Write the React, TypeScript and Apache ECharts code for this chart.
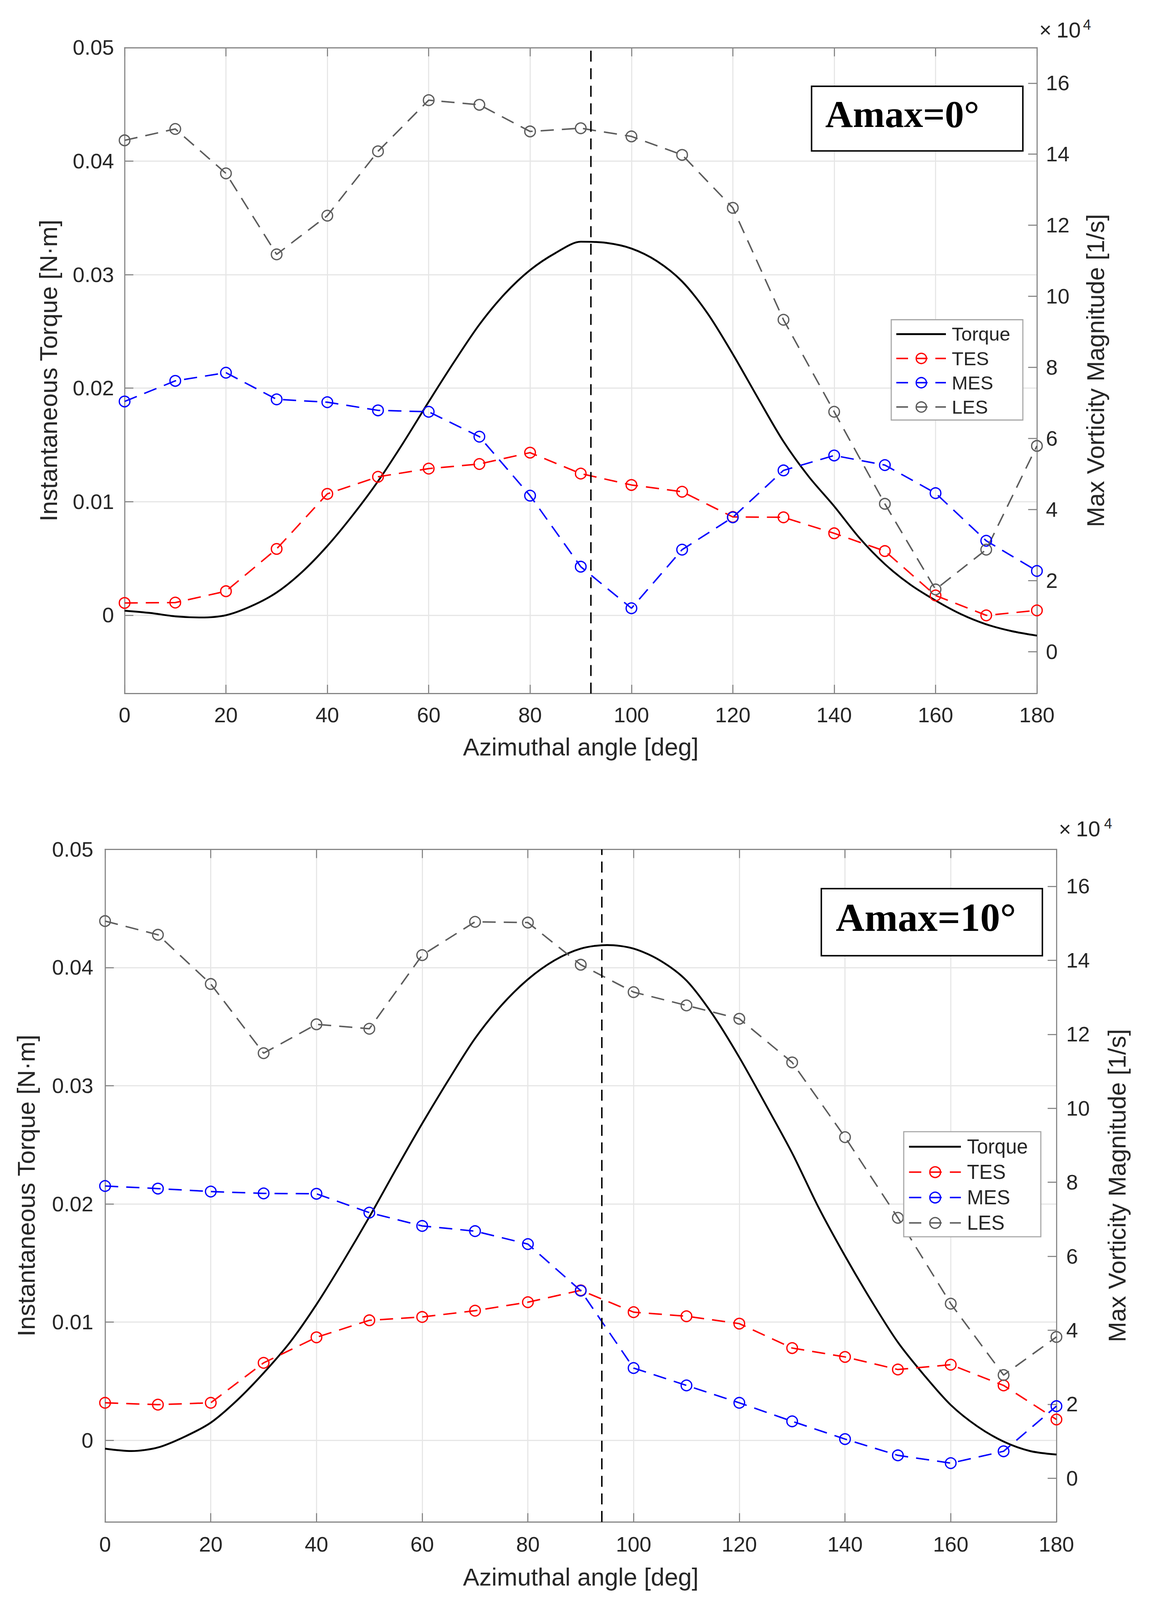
import React, { useEffect, useRef, useState } from 'react';
import * as echarts from 'echarts';

// azimuthal positions of the vorticity samples [deg]
const angles = [0, 10, 20, 30, 40, 50, 60, 70, 80, 90, 100, 110, 120, 130, 140, 150, 160, 170, 180];
const torqueAngles = [
  0, 5, 10, 15, 20, 25, 30, 35, 40, 45, 50, 55, 60, 65, 70, 75, 80, 85, 90,
  95, 100, 105, 110, 115, 120, 125, 130, 135, 140, 145, 150, 155, 160, 165, 170, 175, 180,
];

// ---- Amax = 0 deg ----
const torqueA0 = [
  0.0004, 0.0002, -0.0001, -0.0002, 0.0, 0.0008, 0.002, 0.0038, 0.0061, 0.0088, 0.0118, 0.0152, 0.0188,
  0.0223, 0.0256, 0.0283, 0.0304, 0.0319, 0.0329, 0.0328, 0.0323, 0.0312, 0.0294, 0.0266, 0.023, 0.0191,
  0.0153, 0.0122, 0.0096, 0.0068, 0.0045, 0.0027, 0.0013, 0.0001, -0.0008, -0.0014, -0.0018,
];
// max vorticity magnitude, in units of 1e4 1/s
const tesA0 = [1.37, 1.38, 1.7, 2.89, 4.44, 4.92, 5.15, 5.28, 5.6, 5.01, 4.69, 4.5, 3.79, 3.78, 3.33, 2.83, 1.58, 1.02, 1.16];
const mesA0 = [7.04, 7.62, 7.85, 7.1, 7.02, 6.79, 6.75, 6.05, 4.39, 2.39, 1.22, 2.87, 3.78, 5.1, 5.52, 5.25, 4.46, 3.12, 2.27];
const lesA0 = [14.39, 14.71, 13.46, 11.18, 12.27, 14.08, 15.52, 15.39, 14.64, 14.73, 14.5, 13.98, 12.49, 9.34, 6.75, 4.16, 1.75, 2.87, 5.79];
const peakA0 = 92;

// ---- Amax = 10 deg ----
const torqueA10 = [
  -0.0007, -0.0009, -0.0006, 0.0003, 0.0015, 0.0034, 0.0057, 0.0083, 0.0115, 0.0151, 0.0189, 0.0229, 0.0268,
  0.0305, 0.034, 0.0368, 0.039, 0.0406, 0.0416, 0.0419, 0.0416, 0.0406, 0.0389, 0.036, 0.0324, 0.0284,
  0.0243, 0.0197, 0.0156, 0.0118, 0.0083, 0.0055, 0.003, 0.0012, -0.0001, -0.0009, -0.0012,
];
const tesA10 = [2.04, 1.99, 2.04, 3.12, 3.81, 4.27, 4.36, 4.53, 4.76, 5.08, 4.49, 4.38, 4.18, 3.52, 3.28, 2.94, 3.07, 2.51, 1.59];
const mesA10 = [7.9, 7.83, 7.75, 7.7, 7.69, 7.18, 6.82, 6.68, 6.33, 5.07, 2.98, 2.51, 2.04, 1.54, 1.06, 0.62, 0.41, 0.73, 1.95];
const lesA10 = [15.06, 14.69, 13.36, 11.49, 12.27, 12.15, 14.14, 15.04, 15.02, 13.88, 13.14, 12.78, 12.42, 11.24, 9.22, 7.04, 4.72, 2.79, 3.82];
const peakA10 = 94;

const seriesNames = ['Torque', 'TES', 'MES', 'LES'];
const panelTitles = ['Amax=0°', 'Amax=10°'];

const panelData = [
  { torque: torqueA0, vort: [tesA0, mesA0, lesA0], peak: peakA0, title: panelTitles[0] },
  { torque: torqueA10, vort: [tesA10, mesA10, lesA10], peak: peakA10, title: panelTitles[1] },
];

// ---- look ----
const REF_W = 2942;
const REF_H = 4674;
const FONT = '"Liberation Sans", Arial, Helvetica, sans-serif';
const SERIF = '"Liberation Serif", "Times New Roman", serif';
const TEXT = '#262626';
const AXIS = '#868686';
const GRID = '#e6e6e6';
const colors = ['#000000', '#ff0000', '#0000ff', '#5c5c5c'];
const TOP_Z = 100;

// positions in reference pixels (2942 x 4674 page)
const layouts = [
  {
    grid: { left: 319, top: 139, width: 2336, height: 1887 },
    xLabelMargin: 32, xNameGap: 120, leftNameGap: 164, rightNameGap: 118, leftMargin: 27, rightMargin: 23,
    legend: { x: 2282, y: 934, w: 337, h: 293, s: 1 },
    box: { x: 2078, y: 252, w: 541, h: 189, tx: 35, ty: 81, font: 98 },
    exp: { x: 6, tenX: 50, supX: 118, y: -52, supY: -67 },
  },
  {
    grid: { left: 269, top: 2481, width: 2436, height: 1965 },
    xLabelMargin: 35, xNameGap: 125, leftNameGap: 171, rightNameGap: 123, leftMargin: 30, rightMargin: 25,
    legend: { x: 2314, y: 3306, w: 351, h: 307, s: 1.045 },
    box: { x: 2103, y: 2596, w: 566, h: 196, tx: 37, ty: 84, font: 102 },
    exp: { x: 6, tenX: 50, supX: 122, y: -60, supY: -75 },
  },
];

function buildOption(sx: number, sy: number) {
  const f = Math.sqrt(sx * sy);
  const fx = Math.min(sx, 1.15 * sy);
  const X = (v: number) => v * sx;
  const Y = (v: number) => v * sy;

  const grid: any[] = [];
  const xAxis: any[] = [];
  const yAxis: any[] = [];
  const series: any[] = [];
  const graphic: any[] = [];

  const axisLine = { show: true, onZero: false, lineStyle: { color: AXIS, width: 3 * f } };
  const axisTick = { show: true, inside: true, length: 24 * f, lineStyle: { color: AXIS, width: 3 * f } };
  const labelText = { fontSize: 58 * f, color: TEXT, fontFamily: FONT };
  const nameText = { fontSize: 67 * f, color: TEXT, fontFamily: FONT };

  layouts.forEach((p, i) => {
    const d = panelData[i];
    grid.push({
      left: X(p.grid.left),
      top: Y(p.grid.top),
      width: X(p.grid.width),
      height: Y(p.grid.height),
      show: false,
      containLabel: false,
      outerBoundsMode: 'none',
    });

    const xBase = { type: 'value', gridIndex: i, min: 0, max: 180, interval: 20, axisLine, axisTick };
    xAxis.push({
      ...xBase,
      position: 'bottom',
      name: 'Azimuthal angle [deg]',
      nameLocation: 'middle',
      nameGap: Y(p.xNameGap),
      nameTextStyle: nameText,
      axisLabel: { ...labelText, margin: Y(p.xLabelMargin) },
      splitLine: { show: true, lineStyle: { color: GRID, width: 3 * f } },
    });
    xAxis.push({
      ...xBase,
      position: 'top',
      axisLabel: { show: false },
      splitLine: { show: false },
    });

    yAxis.push({
      type: 'value',
      gridIndex: i,
      position: 'left',
      min: -0.0069,
      max: 0.05,
      minInterval: 0.01,
      maxInterval: 0.01,
      splitNumber: 6,
      name: 'Instantaneous Torque [N·m]',
      nameLocation: 'middle',
      nameGap: X(p.leftNameGap),
      nameTextStyle: nameText,
      axisLine,
      axisTick,
      axisLabel: { ...labelText, margin: X(p.leftMargin), showMinLabel: false },
      splitLine: { show: true, lineStyle: { color: GRID, width: 3 * f } },
    });
    yAxis.push({
      type: 'value',
      gridIndex: i,
      position: 'right',
      min: -1.18,
      max: 17,
      minInterval: 2,
      maxInterval: 2,
      splitNumber: 9,
      name: 'Max Vorticity Magnitude [1/s]',
      nameLocation: 'middle',
      nameGap: X(p.rightNameGap),
      nameTextStyle: nameText,
      axisLine,
      axisTick,
      axisLabel: { ...labelText, margin: X(p.rightMargin), showMinLabel: false, showMaxLabel: false },
      splitLine: { show: false },
    });

    series.push({
      type: 'line',
      name: seriesNames[0],
      xAxisIndex: 2 * i,
      yAxisIndex: 2 * i,
      data: torqueAngles.map((a, k) => [a, d.torque[k]]),
      symbol: 'none',
      smooth: 0.3,
      lineStyle: { color: colors[0], width: 5 * f },
      z: 3,
      markLine: {
        silent: true,
        symbol: ['none', 'none'],
        label: { show: false },
        lineStyle: { color: '#000', width: 4 * f, type: [30 * f, 18 * f] },
        data: [{ xAxis: d.peak }],
      },
    });

    d.vort.forEach((vals, k) => {
      series.push({
        type: 'line',
        name: seriesNames[k + 1],
        xAxisIndex: 2 * i,
        yAxisIndex: 2 * i + 1,
        data: angles.map((a, j) => [a, vals[j]]),
        symbol: 'circle',
        symbolSize: 29 * f,
        itemStyle: { color: 'rgba(255,255,255,0)', borderColor: colors[k + 1], borderWidth: 3.5 * f },
        lineStyle: { color: colors[k + 1], width: 4 * f, type: [36 * f, 22 * f] },
        z: 4,
      });
    });

    // legend, drawn like MATLAB's boxed legend
    const L = p.legend;
    const s = L.s * fx;
    const legendChildren: any[] = [
      {
        type: 'rect',
        z: TOP_Z,
        shape: { x: 0, y: 0, width: X(L.w), height: Y(L.h) },
        style: { fill: '#fff', stroke: '#a6a6a6', lineWidth: 3 * f },
      },
    ];
    seriesNames.forEach((name, k) => {
      const y = Y((42 + 71 * k) * L.s);
      legendChildren.push({
        type: 'line',
        z: TOP_Z + 1,
        shape: { x1: 13 * s, y1: y, x2: 140 * s, y2: y },
        style: { stroke: colors[k], lineWidth: (k === 0 ? 5 : 4) * f, lineDash: k === 0 ? null : [30 * s, 20 * s] },
      });
      if (k > 0) {
        legendChildren.push({
          type: 'circle',
          z: TOP_Z + 1,
          shape: { cx: 77 * s, cy: y, r: 14 * L.s * f },
          style: { fill: 'none', stroke: colors[k], lineWidth: 3.5 * f },
        });
      }
      legendChildren.push({
        type: 'text',
        z: TOP_Z + 1,
        x: 155 * s,
        y,
        style: {
          text: name,
          font: `${Math.round(52 * L.s * f)}px ${FONT}`,
          fill: TEXT,
          verticalAlign: 'middle',
          textVerticalAlign: 'middle',
        },
      });
    });
    graphic.push({ type: 'group', x: X(L.x), y: Y(L.y), z: TOP_Z, children: legendChildren });

    // Amax annotation box
    const B = p.box;
    graphic.push({
      type: 'group',
      x: X(B.x),
      y: Y(B.y),
      z: TOP_Z,
      children: [
        {
          type: 'rect',
          z: TOP_Z,
          shape: { x: 0, y: 0, width: X(B.w), height: Y(B.h) },
          style: { fill: '#fff', stroke: '#000', lineWidth: 4 * f },
        },
        {
          type: 'text',
          z: TOP_Z + 1,
          x: X(B.tx),
          y: Y(B.ty),
          style: {
            text: d.title,
            font: `bold ${Math.round(B.font * fx)}px ${SERIF}`,
            fill: '#000',
            verticalAlign: 'middle',
            textVerticalAlign: 'middle',
          },
        },
      ],
    });

    // x10^4 exponent of the right axis
    const ex = p.grid.left + p.grid.width;
    const E = p.exp;
    const expText = (text: string, dx: number, dy: number, size: number) => ({
      type: 'text',
      x: X(ex + dx),
      y: Y(p.grid.top + dy),
      z: TOP_Z,
      style: { text, font: `${Math.round(size * f)}px ${FONT}`, fill: TEXT, verticalAlign: 'middle', textVerticalAlign: 'middle' },
    });
    graphic.push(expText('×', E.x, E.y, 58));
    graphic.push(expText('10', E.tenX, E.y, 60));
    graphic.push(expText('4', E.supX, E.supY, 40));
  });

  return {
    animation: false,
    backgroundColor: '#ffffff',
    grid,
    xAxis,
    yAxis,
    series,
    graphic: { elements: graphic },
  };
}

export default function App() {
  const chartRef = useRef<HTMLDivElement>(null);
  // fit the page that is actually shown, keeping the reference proportions
  const [size] = useState(() => ({
    w: window.innerWidth || REF_W,
    h: window.innerHeight || REF_H,
  }));

  useEffect(() => {
    const chart = echarts.init(chartRef.current, null, { renderer: 'svg' });
    chart.setOption(buildOption(size.w / REF_W, size.h / REF_H) as any);
    return () => {
      chart.dispose();
    };
  }, [size]);

  return (
    <div
      ref={chartRef}
      style={{ position: 'absolute', left: 0, top: 0, width: size.w, height: size.h, background: '#fff' }}
    />
  );
}
